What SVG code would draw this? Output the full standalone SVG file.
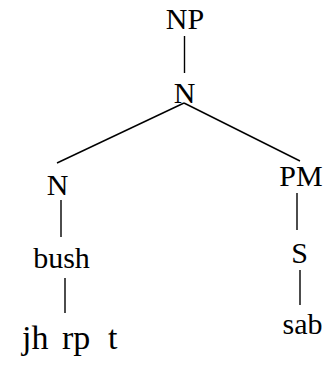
<svg xmlns="http://www.w3.org/2000/svg" width="327" height="365" viewBox="0 0 327 365">
  <style>
    text { font-family: "Liberation Serif", "Times New Roman", serif; font-size: 30px; fill: #000; text-anchor: middle; }
    .edge { stroke: #000; stroke-width: 1.4; fill: none; }
  </style>
  <rect width="327" height="365" fill="#fff"/>
  <g id="connectors">
    <line class="edge" x1="184.5" y1="36" x2="184.5" y2="73"/>
    <line class="edge" x1="184" y1="103" x2="57" y2="163"/>
    <line class="edge" x1="184" y1="103" x2="300" y2="161"/>
    <line class="edge" x1="61" y1="200" x2="61" y2="237"/>
    <line class="edge" x1="65" y1="278" x2="65" y2="313"/>
    <line class="edge" x1="297" y1="193" x2="297" y2="230"/>
    <line class="edge" x1="300" y1="270" x2="300" y2="305"/>
  </g>
  <g id="np"><text x="185" y="29">NP</text></g>
  <g id="n-top"><text x="184.5" y="103">N</text></g>
  <g id="n-left"><text x="57.5" y="195">N</text></g>
  <g id="bush"><text x="61.5" y="268">bush</text></g>
  <g id="jh-rp-t"><text y="349" style="text-anchor:start;font-size:34px"><tspan x="22">jh</tspan><tspan x="53.5"> rp</tspan><tspan x="99.5"> t</tspan></text></g>
  <g id="pm"><text x="301" y="186">PM</text></g>
  <g id="s"><text x="299.5" y="263">S</text></g>
  <g id="sab"><text x="302.5" y="334">sab</text></g>
</svg>
